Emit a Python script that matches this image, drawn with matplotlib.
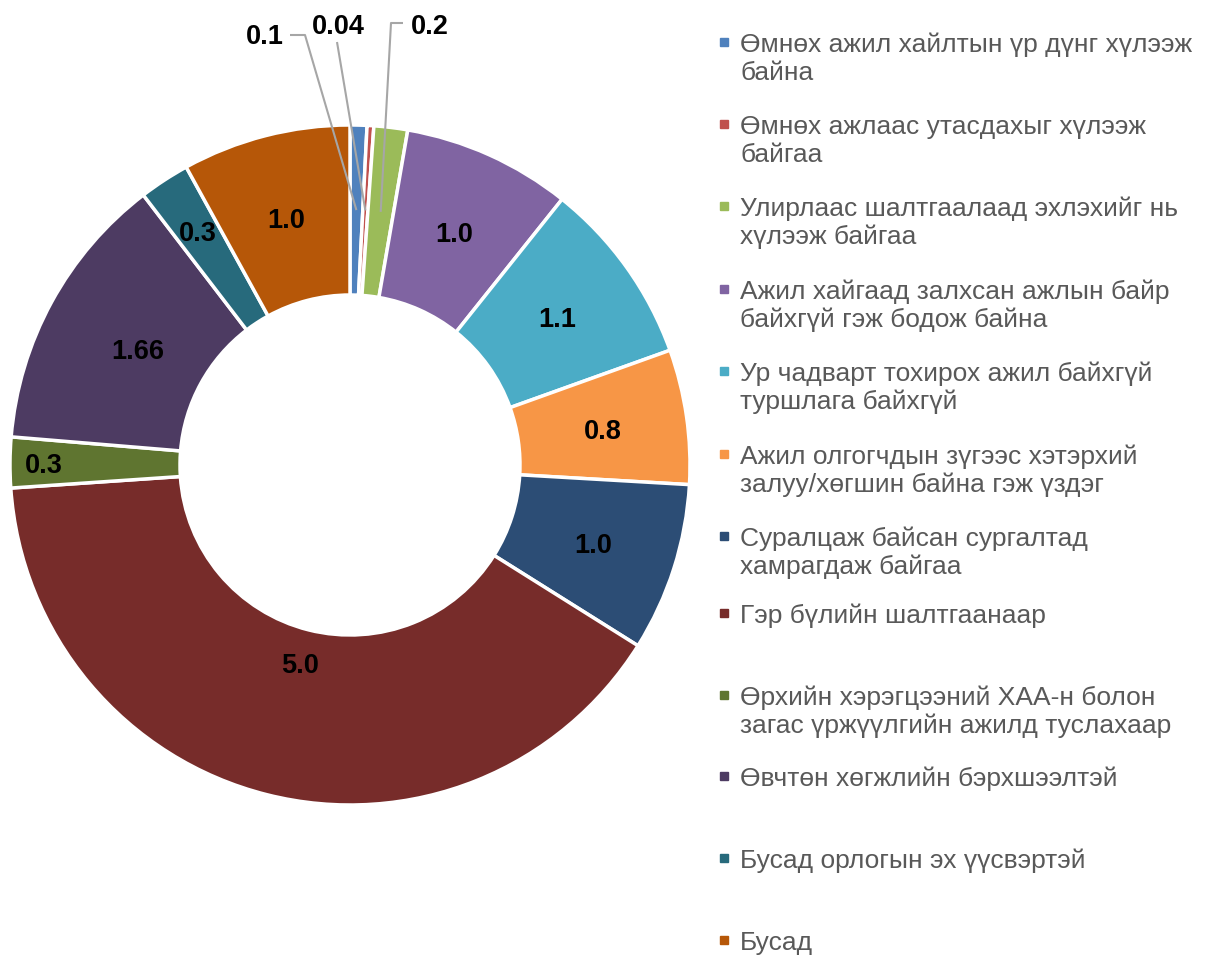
import matplotlib.pyplot as plt
import numpy as np

plt.rcParams['font.family'] = ['Liberation Sans', 'DejaVu Sans']

# өгөгдөл
shaltgaan = [
    'Өмнөх ажил хайлтын үр дүнг хүлээж\nбайна',
    'Өмнөх ажлаас утасдахыг хүлээж\nбайгаа',
    'Улирлаас шалтгаалаад эхлэхийг нь\nхүлээж байгаа',
    'Ажил хайгаад залхсан ажлын байр\nбайхгүй гэж бодож байна',
    'Ур чадварт тохирох ажил байхгүй\nтуршлага байхгүй',
    'Ажил олгогчдын зүгээс хэтэрхий\nзалуу/хөгшин байна гэж үздэг',
    'Суралцаж байсан сургалтад\nхамрагдаж байгаа',
    'Гэр бүлийн шалтгаанаар',
    'Өрхийн хэрэгцээний ХАА-н болон\nзагас үржүүлгийн ажилд туслахаар',
    'Өвчтөн хөгжлийн бэрхшээлтэй',
    'Бусад орлогын эх үүсвэртэй',
    'Бусад',
]
utga = [0.1, 0.04, 0.2, 1.0, 1.1, 0.8, 1.0, 5.0, 0.3, 1.66, 0.3, 1.0]
shoshgo = ['0.1', '0.04', '0.2', '1.0', '1.1', '0.8', '1.0', '5.0', '0.3', '1.66', '0.3', '1.0']
ongo = ['#4F81BD', '#C0504D', '#9BBB59', '#8064A2', '#4BACC6', '#F79646',
        '#2C4D75', '#772C2A', '#5F7530', '#4D3B62', '#276A7C', '#B65708']

W, H = 1205, 955
fig = plt.figure(figsize=(W / 100, H / 100), dpi=100)

# donut: төв (350,465) px, радиус 340 px
R = 340.0
ax = fig.add_axes([0, 0, 700 / W, 1])

wedges, _ = ax.pie(utga, colors=ongo, startangle=90, counterclock=False, radius=1,
                   wedgeprops=dict(width=0.5, edgecolor='white', linewidth=2.5))
ax.set_xlim(-350 / R, 350 / R)
ax.set_ylim((465 - H) / R, 465 / R)
ax.axis('off')

# шошгоны радиус (ихэнх нь 0.75)
label_r = {7: 0.6, 8: 0.9, 9: 0.71, 10: 0.82}
mid = []
for i, w in enumerate(wedges):
    th = np.deg2rad((w.theta1 + w.theta2) / 2)
    mid.append(th)
    if i < 3:
        continue
    r = label_r.get(i, 0.75)
    ax.text(r * np.cos(th), r * np.sin(th), shoshgo[i], ha='center', va='center_baseline',
            fontsize=19.5, fontweight='bold', color='black')

# жижиг хэсгүүдийн гадна шошго (px)
outside = [
    ((265, 34), [(290, 35), (305, 35)]),
    ((338, 24), [(337, 42)]),
    ((430, 24), [(403, 23), (391, 23)]),
]
for i, ((tx, ty), pts) in enumerate(outside):
    ex, ey = 0.75 * np.cos(mid[i]), 0.75 * np.sin(mid[i])
    xs = [(px - 350) / R for px, py in pts] + [ex]
    ys = [(465 - py) / R for px, py in pts] + [ey]
    ax.plot(xs, ys, color='#A6A6A6', lw=1.5, solid_capstyle='butt')
    ax.text((tx - 350) / R, (465 - ty) / R, shoshgo[i], ha='center', va='center_baseline',
            fontsize=19.5, fontweight='bold', color='black')

# тайлбар
lg = fig.add_axes([0, 0, 1, 1])
lg.set_xlim(0, W)
lg.set_ylim(H, 0)
lg.axis('off')
baselines = [52, 134, 216, 299, 381, 464, 546, 623, 705, 786, 868, 950]
for lab, c, yb in zip(shaltgaan, ongo, baselines):
    lg.add_patch(plt.Rectangle((720, yb - 14), 8, 8, color=c))
    for k, line in enumerate(lab.split('\n')):
        lg.text(740, yb + k * 28, line, ha='left', va='baseline', fontsize=19,
                color='#595959')

fig.savefig('out.png', dpi=100)
